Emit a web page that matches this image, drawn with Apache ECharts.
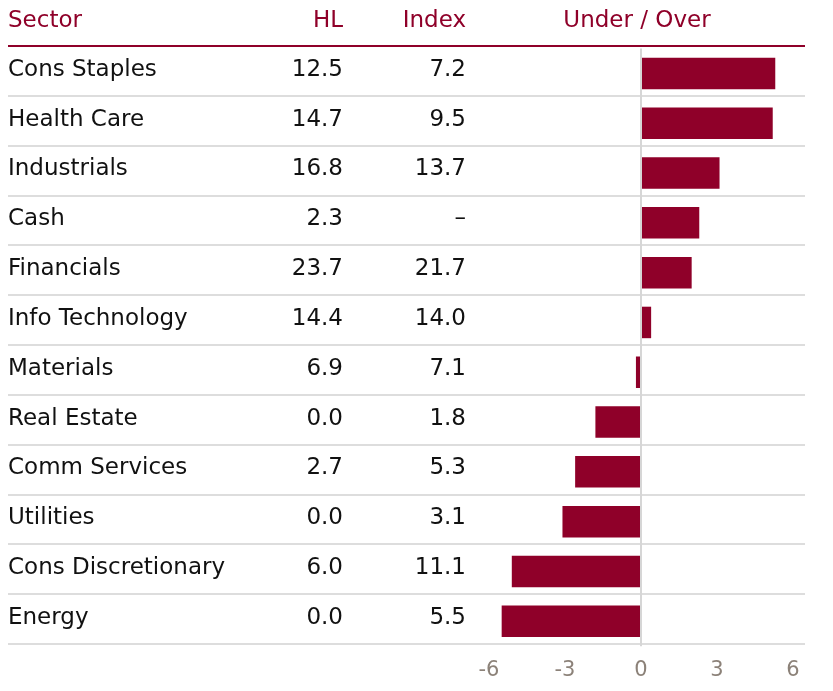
<!DOCTYPE html>
<html><head><meta charset="utf-8">
<script src="https://cdn.jsdelivr.net/npm/echarts@6/dist/echarts.min.js"></script>
<style>html,body{margin:0;padding:0;background:#fff}#c{width:833px;height:691px}</style>
</head><body><div id="c"></div>
<script>
var sectors = ['Cons Staples','Health Care','Industrials','Cash','Financials','Info Technology','Materials','Real Estate','Comm Services','Utilities','Cons Discretionary','Energy'];
var hlValues = [12.5, 14.7, 16.8, 2.3, 23.7, 14.4, 6.9, 0.0, 2.7, 0.0, 6.0, 0.0];
var indexValues = [7.2, 9.5, 13.7, null, 21.7, 14.0, 7.1, 1.8, 5.3, 3.1, 11.1, 5.5];
var underOver = [5.3, 5.2, 3.1, 2.3, 2.0, 0.4, -0.2, -1.8, -2.6, -3.1, -5.1, -5.5];
var headers = ['Sector', 'HL', 'Index', 'Under / Over'];
var xTicks = [-6, -3, 0, 3, 6];

var FONT = '"DejaVu Sans"';
var FS = 23;
var CRIMSON = '#8f0029';
var chart = echarts.init(document.getElementById('c'), null, {renderer: 'canvas'});
function fmt(v){ return v === null ? '\u2013' : v.toFixed(1); }
var labelBase = {fontFamily: FONT, fontSize: FS, color: '#111'};
function textAxis(extra){
  return {type: 'category', gridIndex: 0, data: sectors, inverse: true, position: 'left',
    axisLine: {show: false}, axisTick: {show: false}, splitLine: {show: false},
    axisLabel: Object.assign({}, labelBase, extra)};
}
chart.setOption({
  animation: false,
  grid: [
    {left: 489, right: 40, top: 45, bottom: 48.3},
    {left: 8, right: 28, top: 46, bottom: 47.3},
    {left: 489, right: 40, top: 48.5, bottom: 44.8}
  ],
  xAxis: [
    {type: 'value', gridIndex: 0, min: 0, max: 1, show: false},
    {type: 'value', gridIndex: 1, min: 0, max: 1, show: false},
    {type: 'value', gridIndex: 2, min: xTicks[0], max: xTicks[xTicks.length-1], interval: 3,
     splitLine: {show: false}, axisLine: {show: false}, axisTick: {show: false},
     axisLabel: {fontFamily: FONT, fontSize: 21, color: '#8c8279', margin: 14}}
  ],
  yAxis: [
    textAxis({align: 'left', margin: 481}),
    textAxis({align: 'right', margin: 146, formatter: function(v, i){ return fmt(hlValues[i]); }}),
    textAxis({align: 'right', margin: 23, formatter: function(v, i){ return fmt(indexValues[i]); }}),
    {type: 'category', gridIndex: 1, data: sectors, inverse: true,
     axisLine: {show: false}, axisTick: {show: false}, axisLabel: {show: false},
     splitLine: {show: true, interval: 0, lineStyle: {color: '#dddddd', width: 2}}},
    {type: 'category', gridIndex: 2, data: sectors, inverse: true, show: false}
  ],
  series: [{
    type: 'bar', xAxisIndex: 2, yAxisIndex: 4, data: underOver, barWidth: 31.5,
    itemStyle: {color: CRIMSON}, silent: true,
    markLine: {silent: true, symbol: 'none', label: {show: false},
      lineStyle: {color: '#d6d6d6', width: 2, type: 'solid'},
      data: [{xAxis: 0}]}
  }],
  graphic: [
    {type: 'line', z: 100, shape: {x1: 8, y1: 46, x2: 805, y2: 46}, style: {stroke: CRIMSON, lineWidth: 2}},
    {type: 'text', z: 100, x: 8, y: 21, style: {text: headers[0], font: FS + 'px ' + FONT, fill: CRIMSON, textAlign: 'left', textVerticalAlign: 'middle'}},
    {type: 'text', z: 100, x: 343, y: 21, style: {text: headers[1], font: FS + 'px ' + FONT, fill: CRIMSON, textAlign: 'right', textVerticalAlign: 'middle'}},
    {type: 'text', z: 100, x: 466, y: 21, style: {text: headers[2], font: FS + 'px ' + FONT, fill: CRIMSON, textAlign: 'right', textVerticalAlign: 'middle'}},
    {type: 'text', z: 100, x: 637, y: 21, style: {text: headers[3], font: FS + 'px ' + FONT, fill: CRIMSON, textAlign: 'center', textVerticalAlign: 'middle'}}
  ]
});
</script></body></html>
